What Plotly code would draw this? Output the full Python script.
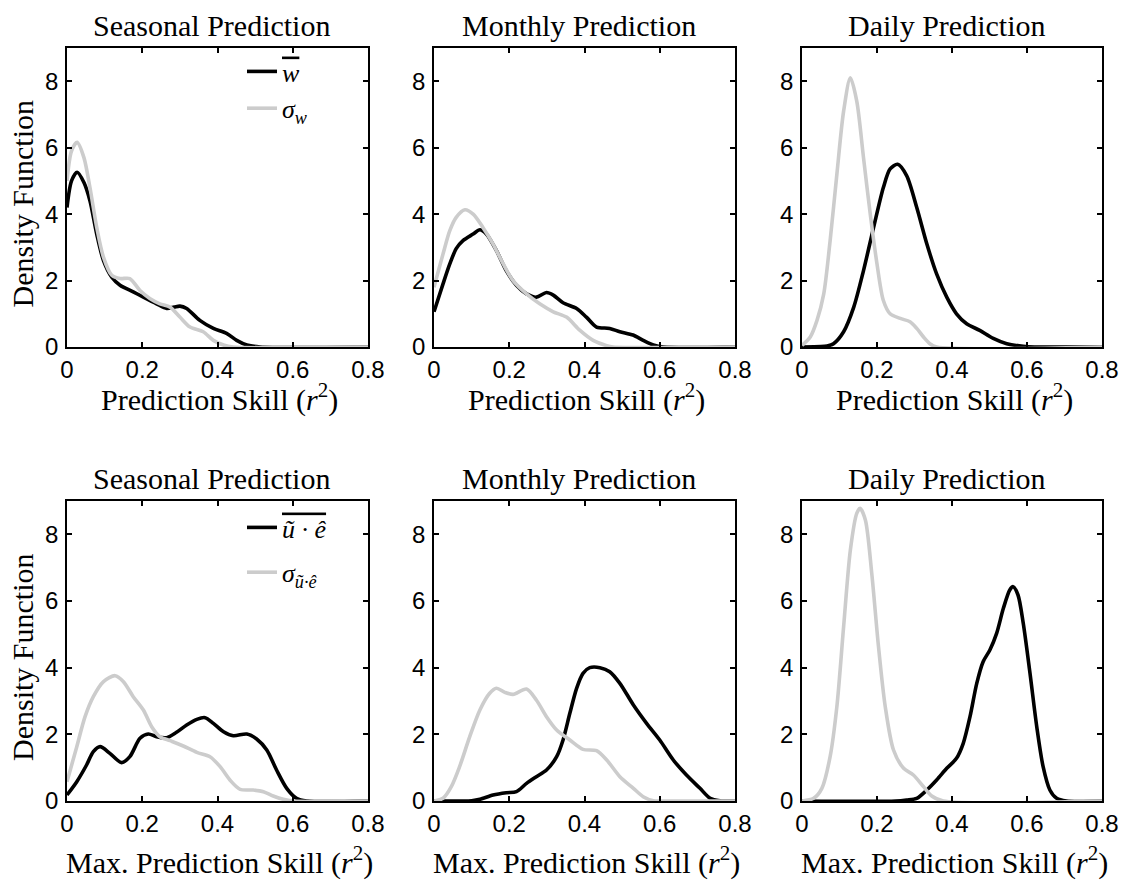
import plotly.graph_objects as go

# ---------------- data ----------------
panel_titles = ["Seasonal Prediction", "Monthly Prediction", "Daily Prediction"]
row_xlabels = ["Prediction Skill (<i>r</i><sup>2</sup>)",
               "Max. Prediction Skill (<i>r</i><sup>2</sup>)"]
ylabel = "Density Function"
x_ticks = [0, 0.2, 0.4, 0.6, 0.8]
x_ticklabels = ["0", "0.2", "0.4", "0.6", "0.8"]
y_ticks = [0, 2, 4, 6, 8]
y_ticklabels = ["0", "2", "4", "6", "8"]

legend_top = ['<span style="text-decoration:overline"><i>w</i></span>', "<i>σ<sub>w</sub></i>"]
legend_bottom = ['<span style="text-decoration:overline"><i>ũ · ê</i></span>', "<i>σ<sub>ũ·ê</sub></i>"]

# Row 1: prediction skill
seas_mean_x = [0, 0.012, 0.027, 0.045, 0.061, 0.079, 0.097, 0.119, 0.141, 0.176, 0.203, 0.238, 0.265, 0.285, 0.30, 0.318, 0.353, 0.389, 0.424, 0.451, 0.478, 0.513, 0.8]
seas_mean_y = [4.2, 5.0, 5.26, 4.95, 4.4, 3.4, 2.6, 2.1, 1.86, 1.66, 1.5, 1.3, 1.16, 1.2, 1.23, 1.16, 0.8, 0.56, 0.41, 0.2, 0.06, 0, 0]
seas_std_x = [0, 0.012, 0.027, 0.045, 0.061, 0.079, 0.097, 0.119, 0.141, 0.167, 0.194, 0.22, 0.247, 0.274, 0.30, 0.327, 0.362, 0.389, 0.416, 0.442, 0.8]
seas_std_y = [5.0, 5.9, 6.16, 5.7, 4.8, 3.6, 2.7, 2.16, 2.06, 2.06, 1.7, 1.46, 1.3, 1.2, 0.9, 0.6, 0.46, 0.2, 0.06, 0, 0]

mon_mean_x = [0, 0.024, 0.042, 0.059, 0.077, 0.104, 0.122, 0.139, 0.166, 0.192, 0.219, 0.246, 0.272, 0.299, 0.317, 0.343, 0.379, 0.405, 0.432, 0.467, 0.494, 0.529, 0.556, 0.583, 0.61, 0.8]
mon_mean_y = [1.06, 1.9, 2.5, 2.96, 3.2, 3.4, 3.53, 3.4, 2.9, 2.3, 1.86, 1.6, 1.5, 1.64, 1.56, 1.33, 1.16, 0.9, 0.6, 0.56, 0.46, 0.36, 0.2, 0.06, 0, 0]
mon_std_x = [0, 0.024, 0.042, 0.059, 0.082, 0.104, 0.13, 0.157, 0.184, 0.21, 0.246, 0.281, 0.317, 0.352, 0.388, 0.423, 0.459, 0.476, 0.8]
mon_std_y = [1.8, 2.8, 3.5, 3.9, 4.13, 4.0, 3.6, 3.1, 2.5, 2.0, 1.6, 1.3, 1.06, 0.9, 0.5, 0.2, 0.04, 0, 0]

day_mean_x = [0, 0.05, 0.067, 0.084, 0.111, 0.138, 0.164, 0.191, 0.217, 0.235, 0.255, 0.279, 0.306, 0.333, 0.359, 0.386, 0.412, 0.439, 0.474, 0.51, 0.546, 0.59, 0.62, 0.8]
day_mean_y = [0, 0.01, 0.03, 0.1, 0.46, 1.2, 2.3, 3.6, 4.8, 5.36, 5.5, 5.16, 4.2, 3.1, 2.2, 1.5, 1.0, 0.7, 0.5, 0.26, 0.1, 0.02, 0, 0]
day_std_x = [0, 0.022, 0.04, 0.058, 0.075, 0.093, 0.111, 0.129, 0.146, 0.164, 0.182, 0.2, 0.217, 0.235, 0.262, 0.288, 0.306, 0.324, 0.341, 0.359, 0.8]
day_std_y = [0.05, 0.3, 0.8, 1.6, 3.2, 5.2, 7.1, 8.1, 7.4, 5.7, 4.0, 2.5, 1.4, 1.0, 0.86, 0.76, 0.56, 0.3, 0.1, 0, 0]

# Row 2: max prediction skill
mseas_mean_x = [0, 0.026, 0.052, 0.07, 0.088, 0.114, 0.145, 0.167, 0.194, 0.216, 0.238, 0.265, 0.291, 0.318, 0.345, 0.367, 0.389, 0.416, 0.442, 0.478, 0.504, 0.531, 0.557, 0.584, 0.61, 0.637, 0.8]
mseas_mean_y = [0.18, 0.58, 1.08, 1.48, 1.63, 1.43, 1.15, 1.33, 1.88, 2.01, 1.93, 1.9, 2.06, 2.28, 2.45, 2.5, 2.33, 2.08, 1.96, 2.01, 1.86, 1.53, 0.93, 0.38, 0.08, 0, 0]
mseas_std_x = [0, 0.026, 0.048, 0.07, 0.097, 0.128, 0.15, 0.176, 0.203, 0.225, 0.247, 0.274, 0.309, 0.345, 0.38, 0.407, 0.433, 0.46, 0.495, 0.522, 0.548, 0.575, 0.601, 0.8]
mseas_std_y = [0.58, 1.63, 2.53, 3.13, 3.58, 3.76, 3.58, 3.13, 2.73, 2.23, 1.93, 1.81, 1.65, 1.46, 1.33, 1.03, 0.63, 0.35, 0.33, 0.28, 0.15, 0.05, 0, 0]

mmon_mean_x = [0, 0.1, 0.122, 0.157, 0.192, 0.219, 0.246, 0.272, 0.299, 0.326, 0.343, 0.361, 0.379, 0.396, 0.414, 0.441, 0.467, 0.494, 0.53, 0.565, 0.6, 0.636, 0.671, 0.707, 0.734, 0.76, 0.8]
mmon_mean_y = [0, 0.01, 0.05, 0.18, 0.25, 0.28, 0.53, 0.73, 0.93, 1.33, 1.83, 2.63, 3.38, 3.83, 4.0, 4.0, 3.88, 3.53, 2.88, 2.33, 1.83, 1.23, 0.78, 0.38, 0.08, 0.01, 0]
mmon_std_x = [0, 0.024, 0.046, 0.068, 0.095, 0.122, 0.148, 0.166, 0.188, 0.21, 0.246, 0.272, 0.299, 0.326, 0.361, 0.396, 0.432, 0.459, 0.494, 0.53, 0.556, 0.583, 0.6, 0.8]
mmon_std_y = [0, 0.08, 0.43, 1.03, 1.93, 2.73, 3.23, 3.38, 3.26, 3.2, 3.36, 3.03, 2.53, 2.13, 1.83, 1.55, 1.51, 1.23, 0.73, 0.38, 0.13, 0.01, 0, 0]

mday_mean_x = [0, 0.25, 0.279, 0.306, 0.333, 0.359, 0.386, 0.412, 0.43, 0.448, 0.466, 0.483, 0.501, 0.519, 0.537, 0.554, 0.563, 0.576, 0.59, 0.608, 0.626, 0.643, 0.661, 0.679, 0.705, 0.8]
mday_mean_y = [0, 0.0, 0.03, 0.08, 0.33, 0.63, 0.98, 1.28, 1.73, 2.53, 3.53, 4.18, 4.53, 5.03, 5.78, 6.33, 6.43, 6.18, 5.33, 3.83, 2.23, 1.03, 0.33, 0.08, 0, 0]
mday_std_x = [0, 0.031, 0.053, 0.075, 0.093, 0.111, 0.129, 0.146, 0.155, 0.169, 0.186, 0.204, 0.222, 0.244, 0.271, 0.297, 0.324, 0.346, 0.377, 0.8]
mday_std_y = [0, 0.08, 0.38, 1.33, 2.83, 5.23, 7.53, 8.63, 8.78, 8.43, 6.83, 4.63, 2.83, 1.53, 0.98, 0.78, 0.43, 0.15, 0, 0]

panels = [
    [(seas_mean_x, seas_mean_y, seas_std_x, seas_std_y),
     (mon_mean_x, mon_mean_y, mon_std_x, mon_std_y),
     (day_mean_x, day_mean_y, day_std_x, day_std_y)],
    [(mseas_mean_x, mseas_mean_y, mseas_std_x, mseas_std_y),
     (mmon_mean_x, mmon_mean_y, mmon_std_x, mmon_std_y),
     (mday_mean_x, mday_mean_y, mday_std_x, mday_std_y)],
]

# ---------------- layout geometry ----------------
W, H = 1125, 880
col_px = [(67, 368), (434, 735), (802, 1102)]
row_px = [(48, 347), (501, 801)]
xlabel_center = [397, 860]

BLACK = "#000000"
GRAY = "rgb(204,204,204)"
SERIF = "Liberation Serif"
SANS = "Liberation Sans"
SERIF_SIZE = 30

fig = go.Figure()
layout = dict(
    width=W, height=H,
    margin=dict(l=0, r=0, t=0, b=0),
    paper_bgcolor="white", plot_bgcolor="white",
    showlegend=True,
)
annotations = []

idx = 0
for r in range(2):
    for c in range(3):
        idx += 1
        xa = "x" if idx == 1 else f"x{idx}"
        ya = "y" if idx == 1 else f"y{idx}"
        xkey = "xaxis" if idx == 1 else f"xaxis{idx}"
        ykey = "yaxis" if idx == 1 else f"yaxis{idx}"
        x0, x1 = col_px[c]
        y0, y1 = row_px[r]
        mx, my, sx, sy = panels[r][c]
        leg = None
        names = [None, None]
        if c == 0:
            leg = "legend" if r == 0 else "legend2"
            names = legend_top if r == 0 else legend_bottom
        fig.add_trace(go.Scatter(
            x=mx, y=my, mode="lines", xaxis=xa, yaxis=ya,
            line=dict(color=BLACK, width=3.6, shape="spline", smoothing=0.8),
            name=names[0] or "mean", showlegend=leg is not None,
            legend=leg or "legend", legendgroup=f"m{idx}", cliponaxis=False,
            hoverinfo="skip"))
        fig.add_trace(go.Scatter(
            x=sx, y=sy, mode="lines", xaxis=xa, yaxis=ya,
            line=dict(color=GRAY, width=3.6, shape="spline", smoothing=0.8),
            name=names[1] or "std", showlegend=leg is not None,
            legend=leg or "legend", legendgroup=f"s{idx}", cliponaxis=False,
            hoverinfo="skip"))

        layout[xkey] = dict(
            domain=[x0 / W, x1 / W], anchor=ya, range=[0, 0.8],
            tickvals=x_ticks, ticktext=x_ticklabels,
            ticks="inside", ticklen=5, tickcolor="black", tickwidth=1.5,
            showline=True, linecolor="black", linewidth=1.6, mirror="ticks",
            showgrid=False, zeroline=False,
            tickfont=dict(family=SANS, size=24, color="black"),
            ticklabelstandoff=0,
            automargin=False,
        )
        layout[ykey] = dict(
            domain=[1 - y1 / H, 1 - y0 / H], anchor=xa, range=[0, 9],
            tickvals=y_ticks, ticktext=y_ticklabels,
            ticks="inside", ticklen=5, tickcolor="black", tickwidth=1.5,
            showline=True, linecolor="black", linewidth=1.6, mirror="ticks",
            showgrid=False, zeroline=False,
            tickfont=dict(family=SANS, size=24, color="black"),
            ticklabelstandoff=2,
            automargin=False,
        )
        # panel title
        annotations.append(dict(
            text=panel_titles[c], xref="paper", yref="paper",
            x=((x0 + x1) / 2 - 6) / W, y=1 - (y0 - 23) / H,
            xanchor="center", yanchor="middle", showarrow=False,
            font=dict(family=SERIF, size=SERIF_SIZE, color="black")))
        # x-axis label
        annotations.append(dict(
            text=row_xlabels[r], xref="paper", yref="paper",
            x=((x0 + x1) / 2 + 2) / W, y=1 - xlabel_center[r] / H,
            xanchor="center", yanchor="middle", showarrow=False,
            font=dict(family=SERIF, size=SERIF_SIZE, color="black")))
        if c == 0:
            annotations.append(dict(
                text=ylabel, xref="paper", yref="paper",
                x=22 / W, y=1 - ((y0 + y1) / 2 + 6) / H,
                xanchor="center", yanchor="middle", textangle=-90, showarrow=False,
                font=dict(family=SERIF, size=SERIF_SIZE, color="black")))

legend_style = dict(
    bgcolor="rgba(0,0,0,0)", borderwidth=0,
    font=dict(family=SERIF, size=26, color="black"),
    traceorder="grouped",
    xanchor="left", yanchor="top", xref="paper", yref="paper",
)
layout["legend"] = dict(legend_style, x=242 / W, y=1 - 48 / H, tracegroupgap=0)
layout["legend2"] = dict(legend_style, x=242 / W, y=1 - 504 / H, tracegroupgap=8)
layout["annotations"] = annotations

fig.update_layout(**layout)
fig.write_html("out.html")
